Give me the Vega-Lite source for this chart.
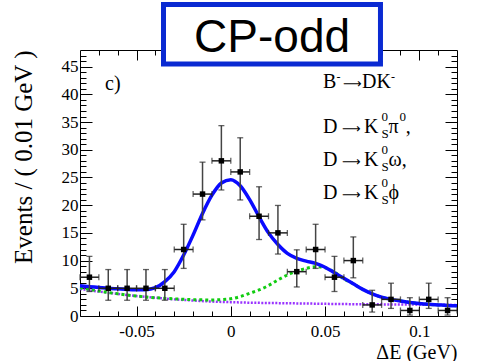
{
  "$schema": "https://vega.github.io/schema/vega-lite/v6.json",
  "width": 377,
  "height": 266,
  "autosize": {"type": "none"},
  "padding": {"left": 80, "top": 50, "right": 23, "bottom": 45},
  "background": "white",
  "config": {
    "font": "Liberation Serif",
    "view": {"stroke": null},
    "axis": {"grid": false, "domainColor": "black", "tickColor": "black", "labelColor": "black", "titleColor": "black", "labelFont": "Liberation Serif", "titleFont": "Liberation Serif", "titleFontWeight": "normal", "domainWidth": 1, "tickWidth": 1}
  },
  "datasets": {
    "one": [{}],
    "pts": [
      {"x": -0.075, "n": 7, "lo": 4.42, "hi": 10.76, "xlo": -0.08, "xhi": -0.07},
      {"x": -0.065, "n": 5, "lo": 2.84, "hi": 8.38, "xlo": -0.07, "xhi": -0.06},
      {"x": -0.055, "n": 5, "lo": 2.84, "hi": 8.38, "xlo": -0.06, "xhi": -0.05},
      {"x": -0.045, "n": 5, "lo": 2.84, "hi": 8.38, "xlo": -0.05, "xhi": -0.04},
      {"x": -0.035, "n": 5, "lo": 2.84, "hi": 8.38, "xlo": -0.04, "xhi": -0.03},
      {"x": -0.025, "n": 12, "lo": 8.59, "hi": 16.55, "xlo": -0.03, "xhi": -0.02},
      {"x": -0.015, "n": 22, "lo": 17.35, "hi": 27.76, "xlo": -0.02, "xhi": -0.01},
      {"x": -0.005, "n": 28, "lo": 22.74, "hi": 34.35, "xlo": -0.01, "xhi": 0.0},
      {"x": 0.005, "n": 26, "lo": 20.94, "hi": 32.16, "xlo": 0.0, "xhi": 0.01},
      {"x": 0.015, "n": 18, "lo": 13.8, "hi": 23.32, "xlo": 0.01, "xhi": 0.02},
      {"x": 0.025, "n": 15, "lo": 11.18, "hi": 19.95, "xlo": 0.02, "xhi": 0.03},
      {"x": 0.035, "n": 8, "lo": 5.24, "hi": 11.94, "xlo": 0.03, "xhi": 0.04},
      {"x": 0.045, "n": 12, "lo": 8.59, "hi": 16.55, "xlo": 0.04, "xhi": 0.05},
      {"x": 0.055, "n": 7, "lo": 4.42, "hi": 10.76, "xlo": 0.05, "xhi": 0.06},
      {"x": 0.065, "n": 10, "lo": 6.89, "hi": 14.27, "xlo": 0.06, "xhi": 0.07},
      {"x": 0.075, "n": 2, "lo": 0.71, "hi": 4.64, "xlo": 0.07, "xhi": 0.08},
      {"x": 0.085, "n": 3, "lo": 1.37, "hi": 5.92, "xlo": 0.08, "xhi": 0.09},
      {"x": 0.095, "n": 1, "lo": 0.17, "hi": 3.3, "xlo": 0.09, "xhi": 0.1},
      {"x": 0.105, "n": 3, "lo": 1.37, "hi": 5.92, "xlo": 0.1, "xhi": 0.11},
      {"x": 0.115, "n": 1, "lo": 0.17, "hi": 3.3, "xlo": 0.11, "xhi": 0.12}
    ],
    "total": [
      {"x": -0.08, "y": 5.45}, {"x": -0.075, "y": 5.3}, {"x": -0.07, "y": 5.15}, {"x": -0.065, "y": 5.0},
      {"x": -0.06, "y": 4.9}, {"x": -0.055, "y": 4.8}, {"x": -0.05, "y": 4.75}, {"x": -0.045, "y": 4.75},
      {"x": -0.04, "y": 5.1}, {"x": -0.035, "y": 6.2}, {"x": -0.03, "y": 8.0}, {"x": -0.025, "y": 11.0},
      {"x": -0.02, "y": 14.6}, {"x": -0.015, "y": 18.5}, {"x": -0.01, "y": 21.8}, {"x": -0.005, "y": 24.0},
      {"x": 0.0, "y": 24.6}, {"x": 0.005, "y": 23.5}, {"x": 0.01, "y": 21.0}, {"x": 0.015, "y": 17.9},
      {"x": 0.02, "y": 15.0}, {"x": 0.025, "y": 12.9}, {"x": 0.03, "y": 11.3}, {"x": 0.035, "y": 10.4},
      {"x": 0.04, "y": 9.9}, {"x": 0.045, "y": 9.5}, {"x": 0.05, "y": 8.8}, {"x": 0.055, "y": 7.8},
      {"x": 0.06, "y": 6.8}, {"x": 0.065, "y": 5.8}, {"x": 0.07, "y": 4.8}, {"x": 0.075, "y": 4.0},
      {"x": 0.08, "y": 3.4}, {"x": 0.085, "y": 3.0}, {"x": 0.09, "y": 2.7}, {"x": 0.095, "y": 2.45},
      {"x": 0.1, "y": 2.25}, {"x": 0.105, "y": 2.1}, {"x": 0.11, "y": 2.0}, {"x": 0.115, "y": 1.9},
      {"x": 0.12, "y": 1.85}
    ],
    "peak": [
      {"x": -0.08, "y": 5.1}, {"x": -0.07, "y": 4.5}, {"x": -0.06, "y": 4.0}, {"x": -0.05, "y": 3.6},
      {"x": -0.04, "y": 3.3}, {"x": -0.03, "y": 3.1}, {"x": -0.02, "y": 2.95}, {"x": -0.01, "y": 2.9},
      {"x": -0.005, "y": 2.95}, {"x": 0.0, "y": 3.1}, {"x": 0.005, "y": 3.5}, {"x": 0.01, "y": 4.1},
      {"x": 0.015, "y": 4.7}, {"x": 0.02, "y": 5.5}, {"x": 0.025, "y": 6.5}, {"x": 0.03, "y": 7.4},
      {"x": 0.035, "y": 8.1}, {"x": 0.04, "y": 8.6}, {"x": 0.045, "y": 8.9}, {"x": 0.05, "y": 8.7},
      {"x": 0.055, "y": 7.9}, {"x": 0.06, "y": 6.7}, {"x": 0.065, "y": 5.8}, {"x": 0.07, "y": 4.8},
      {"x": 0.075, "y": 4.0}, {"x": 0.08, "y": 3.4}, {"x": 0.085, "y": 3.0}, {"x": 0.09, "y": 2.7},
      {"x": 0.095, "y": 2.45}, {"x": 0.1, "y": 2.25}, {"x": 0.105, "y": 2.1}, {"x": 0.11, "y": 2.0},
      {"x": 0.115, "y": 1.9}, {"x": 0.12, "y": 1.85}
    ],
    "comb": [
      {"x": -0.08, "y": 4.9}, {"x": -0.07, "y": 4.4}, {"x": -0.06, "y": 4.0}, {"x": -0.05, "y": 3.6},
      {"x": -0.04, "y": 3.3}, {"x": -0.03, "y": 3.0}, {"x": -0.02, "y": 2.8}, {"x": -0.01, "y": 2.6},
      {"x": 0.0, "y": 2.5}, {"x": 0.01, "y": 2.4}, {"x": 0.02, "y": 2.35}, {"x": 0.04, "y": 2.25},
      {"x": 0.06, "y": 2.15}, {"x": 0.08, "y": 2.1}, {"x": 0.1, "y": 2.05}, {"x": 0.12, "y": 2.0}
    ]
  },
  "resolve": {"axis": {"x": "independent", "y": "independent"}},
  "layer": [
    {
      "data": {"name": "comb"},
      "mark": {"type": "line", "color": "#9933ff", "strokeWidth": 2.5, "strokeDash": [2, 1.5], "interpolate": "monotone"},
      "encoding": {
        "x": {"field": "x", "type": "quantitative", "scale": {"domain": [-0.08, 0.12], "nice": false, "zero": false},
          "axis": {"orient": "bottom", "values": [-0.05, 0, 0.05, 0.1], "tickSize": -10, "labelPadding": 17, "labelFont": "Liberation Serif", "labelFontSize": 17,
            "labelExpr": "datum.value == 0 ? '0' : (datum.value < 0 ? '-' : '') + format(abs(datum.value), '~g')",
            "title": "ΔE (GeV)", "titleFont": "Liberation Serif", "titleFontSize": 20, "titleAnchor": "end", "titlePadding": 3}},
        "y": {"field": "y", "type": "quantitative", "scale": {"domain": [0, 48], "nice": false, "zero": false},
          "axis": {"orient": "left", "values": [0, 5, 10, 15, 20, 25, 30, 35, 40, 45], "tickSize": -12, "labelPadding": 14, "labelFont": "Liberation Serif", "labelFontSize": 17,
            "title": "Events / ( 0.01 GeV )", "titleFont": "Liberation Serif", "titleFontSize": 25, "titleAnchor": "end", "titlePadding": 25}}
      }
    },
    {
      "data": {"name": "peak"},
      "mark": {"type": "line", "color": "#11cc11", "strokeWidth": 3, "strokeDash": [3, 3], "interpolate": "monotone"},
      "encoding": {
        "x": {"field": "x", "type": "quantitative", "scale": {"domain": [-0.08, 0.12], "nice": false, "zero": false},
          "axis": {"orient": "bottom", "values": [-0.07, -0.06, -0.04, -0.03, -0.02, -0.01, 0.01, 0.02, 0.03, 0.04, 0.06, 0.07, 0.08, 0.09, 0.11], "tickSize": -5, "labels": false, "domain": false, "title": null}},
        "y": {"field": "y", "type": "quantitative", "scale": {"domain": [0, 48], "nice": false, "zero": false},
          "axis": {"orient": "left", "values": [1, 2, 3, 4, 6, 7, 8, 9, 11, 12, 13, 14, 16, 17, 18, 19, 21, 22, 23, 24, 26, 27, 28, 29, 31, 32, 33, 34, 36, 37, 38, 39, 41, 42, 43, 44, 46, 47], "tickSize": -6, "labels": false, "domain": false, "title": null}}
      }
    },
    {
      "data": {"name": "total"},
      "mark": {"type": "line", "color": "#0a0aff", "strokeWidth": 3.5, "interpolate": "monotone"},
      "encoding": {
        "x": {"field": "x", "type": "quantitative", "scale": {"domain": [-0.08, 0.12], "nice": false, "zero": false},
          "axis": {"orient": "top", "values": [-0.05, 0, 0.05, 0.1], "tickSize": -10, "labels": false, "title": null}},
        "y": {"field": "y", "type": "quantitative", "scale": {"domain": [0, 48], "nice": false, "zero": false},
          "axis": {"orient": "right", "values": [0, 5, 10, 15, 20, 25, 30, 35, 40, 45], "tickSize": -12, "labels": false, "title": null}}
      }
    },
    {
      "data": {"name": "pts"},
      "mark": {"type": "rule", "color": "#444444", "strokeWidth": 1.5},
      "encoding": {
        "x": {"field": "x", "type": "quantitative", "scale": {"domain": [-0.08, 0.12], "nice": false, "zero": false},
          "axis": {"orient": "top", "values": [-0.07, -0.06, -0.04, -0.03, -0.02, -0.01, 0.01, 0.02, 0.03, 0.04, 0.06, 0.07, 0.08, 0.09, 0.11], "tickSize": -5, "labels": false, "domain": false, "title": null}},
        "y": {"field": "lo", "type": "quantitative", "scale": {"domain": [0, 48], "nice": false, "zero": false},
          "axis": {"orient": "right", "values": [1, 2, 3, 4, 6, 7, 8, 9, 11, 12, 13, 14, 16, 17, 18, 19, 21, 22, 23, 24, 26, 27, 28, 29, 31, 32, 33, 34, 36, 37, 38, 39, 41, 42, 43, 44, 46, 47], "tickSize": -6, "labels": false, "domain": false, "title": null}},
        "y2": {"field": "hi"}
      }
    },
    {
      "data": {"name": "pts"},
      "mark": {"type": "rule", "color": "#222222", "strokeWidth": 1.5},
      "encoding": {
        "x": {"field": "xlo", "type": "quantitative", "scale": {"domain": [-0.08, 0.12], "nice": false, "zero": false}, "axis": null},
        "x2": {"field": "xhi"},
        "y": {"field": "n", "type": "quantitative", "scale": {"domain": [0, 48], "nice": false, "zero": false}, "axis": null}
      }
    },
    {
      "data": {"name": "pts"},
      "transform": [{"fold": ["lo", "hi"], "as": ["k", "v"]}],
      "mark": {"type": "tick", "orient": "horizontal", "color": "#222222", "size": 6, "thickness": 1.3},
      "encoding": {
        "x": {"field": "x", "type": "quantitative", "scale": {"domain": [-0.08, 0.12], "nice": false, "zero": false}, "axis": null},
        "y": {"field": "v", "type": "quantitative", "scale": {"domain": [0, 48], "nice": false, "zero": false}, "axis": null}
      }
    },
    {
      "data": {"name": "pts"},
      "transform": [{"fold": ["xlo", "xhi"], "as": ["k", "v"]}],
      "mark": {"type": "tick", "orient": "vertical", "color": "#222222", "size": 6, "thickness": 1.3},
      "encoding": {
        "x": {"field": "v", "type": "quantitative", "scale": {"domain": [-0.08, 0.12], "nice": false, "zero": false}, "axis": null},
        "y": {"field": "n", "type": "quantitative", "scale": {"domain": [0, 48], "nice": false, "zero": false}, "axis": null}
      }
    },
    {
      "data": {"name": "pts"},
      "mark": {"type": "square", "color": "black", "filled": true, "opacity": 1, "size": 30},
      "encoding": {
        "x": {"field": "x", "type": "quantitative", "scale": {"domain": [-0.08, 0.12], "nice": false, "zero": false}, "axis": null},
        "y": {"field": "n", "type": "quantitative", "scale": {"domain": [0, 48], "nice": false, "zero": false}, "axis": null}
      }
    },
    {
      "data": {"name": "one"},
      "mark": {"type": "text", "text": "c)", "font": "Liberation Serif", "fontSize": 20, "align": "left", "baseline": "alphabetic", "color": "black"},
      "encoding": {
        "x": {"datum": -0.0667, "type": "quantitative", "scale": {"domain": [-0.08, 0.12], "nice": false, "zero": false}, "axis": null},
        "y": {"datum": 40.78, "type": "quantitative", "scale": {"domain": [0, 48], "nice": false, "zero": false}, "axis": null}
      }
    },
    {
      "data": {"name": "one"},
      "mark": {"type": "text", "text": "B", "font": "Liberation Serif", "fontSize": 20, "align": "left", "baseline": "alphabetic", "color": "black"},
      "encoding": {
        "x": {"datum": 0.0489, "type": "quantitative", "scale": {"domain": [-0.08, 0.12], "nice": false, "zero": false}, "axis": null},
        "y": {"datum": 41.14, "type": "quantitative", "scale": {"domain": [0, 48], "nice": false, "zero": false}, "axis": null}
      }
    },
    {
      "data": {"name": "one"},
      "mark": {"type": "text", "text": "-", "font": "Liberation Serif", "fontSize": 12, "align": "left", "baseline": "alphabetic", "color": "black"},
      "encoding": {
        "x": {"datum": 0.0561, "type": "quantitative", "scale": {"domain": [-0.08, 0.12], "nice": false, "zero": false}, "axis": null},
        "y": {"datum": 42.41, "type": "quantitative", "scale": {"domain": [0, 48], "nice": false, "zero": false}, "axis": null}
      }
    },
    {
      "data": {"name": "one"},
      "mark": {"type": "text", "text": "⟶", "font": "DejaVu Sans", "fontSize": 13, "align": "left", "baseline": "alphabetic", "color": "black"},
      "encoding": {
        "x": {"datum": 0.0595, "type": "quantitative", "scale": {"domain": [-0.08, 0.12], "nice": false, "zero": false}, "axis": null},
        "y": {"datum": 41.14, "type": "quantitative", "scale": {"domain": [0, 48], "nice": false, "zero": false}, "axis": null}
      }
    },
    {
      "data": {"name": "one"},
      "mark": {"type": "text", "text": "DK", "font": "Liberation Serif", "fontSize": 20, "align": "left", "baseline": "alphabetic", "color": "black"},
      "encoding": {
        "x": {"datum": 0.0696, "type": "quantitative", "scale": {"domain": [-0.08, 0.12], "nice": false, "zero": false}, "axis": null},
        "y": {"datum": 41.14, "type": "quantitative", "scale": {"domain": [0, 48], "nice": false, "zero": false}, "axis": null}
      }
    },
    {
      "data": {"name": "one"},
      "mark": {"type": "text", "text": "-", "font": "Liberation Serif", "fontSize": 12, "align": "left", "baseline": "alphabetic", "color": "black"},
      "encoding": {
        "x": {"datum": 0.0850, "type": "quantitative", "scale": {"domain": [-0.08, 0.12], "nice": false, "zero": false}, "axis": null},
        "y": {"datum": 42.41, "type": "quantitative", "scale": {"domain": [0, 48], "nice": false, "zero": false}, "axis": null}
      }
    },
    {
      "data": {"name": "one"},
      "mark": {"type": "text", "text": ["D", "D", "D"], "lineHeight": 33, "font": "Liberation Serif", "fontSize": 20, "align": "left", "baseline": "alphabetic", "color": "black"},
      "encoding": {
        "x": {"datum": 0.0489, "type": "quantitative", "scale": {"domain": [-0.08, 0.12], "nice": false, "zero": false}, "axis": null},
        "y": {"datum": 33.02, "type": "quantitative", "scale": {"domain": [0, 48], "nice": false, "zero": false}, "axis": null}
      }
    },
    {
      "data": {"name": "one"},
      "mark": {"type": "text", "text": ["⟶", "⟶", "⟶"], "lineHeight": 33, "font": "DejaVu Sans", "fontSize": 13, "align": "left", "baseline": "alphabetic", "color": "black"},
      "encoding": {
        "x": {"datum": 0.0590, "type": "quantitative", "scale": {"domain": [-0.08, 0.12], "nice": false, "zero": false}, "axis": null},
        "y": {"datum": 33.02, "type": "quantitative", "scale": {"domain": [0, 48], "nice": false, "zero": false}, "axis": null}
      }
    },
    {
      "data": {"name": "one"},
      "mark": {"type": "text", "text": ["K", "K", "K"], "lineHeight": 33, "font": "Liberation Serif", "fontSize": 20, "align": "left", "baseline": "alphabetic", "color": "black"},
      "encoding": {
        "x": {"datum": 0.0706, "type": "quantitative", "scale": {"domain": [-0.08, 0.12], "nice": false, "zero": false}, "axis": null},
        "y": {"datum": 33.02, "type": "quantitative", "scale": {"domain": [0, 48], "nice": false, "zero": false}, "axis": null}
      }
    },
    {
      "data": {"name": "one"},
      "mark": {"type": "text", "text": ["0", "0", "0"], "lineHeight": 33, "font": "Liberation Serif", "fontSize": 13, "align": "left", "baseline": "alphabetic", "color": "black"},
      "encoding": {
        "x": {"datum": 0.0800, "type": "quantitative", "scale": {"domain": [-0.08, 0.12], "nice": false, "zero": false}, "axis": null},
        "y": {"datum": 35.2, "type": "quantitative", "scale": {"domain": [0, 48], "nice": false, "zero": false}, "axis": null}
      }
    },
    {
      "data": {"name": "one"},
      "mark": {"type": "text", "text": ["S", "S", "S"], "lineHeight": 33, "font": "Liberation Serif", "fontSize": 13, "align": "left", "baseline": "alphabetic", "color": "black"},
      "encoding": {
        "x": {"datum": 0.0800, "type": "quantitative", "scale": {"domain": [-0.08, 0.12], "nice": false, "zero": false}, "axis": null},
        "y": {"datum": 32.12, "type": "quantitative", "scale": {"domain": [0, 48], "nice": false, "zero": false}, "axis": null}
      }
    },
    {
      "data": {"name": "one"},
      "mark": {"type": "text", "text": ["π", "ω,", "ϕ"], "lineHeight": 33, "font": "Liberation Serif", "fontSize": 20, "align": "left", "baseline": "alphabetic", "color": "black"},
      "encoding": {
        "x": {"datum": 0.0837, "type": "quantitative", "scale": {"domain": [-0.08, 0.12], "nice": false, "zero": false}, "axis": null},
        "y": {"datum": 33.02, "type": "quantitative", "scale": {"domain": [0, 48], "nice": false, "zero": false}, "axis": null}
      }
    },
    {
      "data": {"name": "one"},
      "mark": {"type": "text", "text": "0", "font": "Liberation Serif", "fontSize": 13, "align": "left", "baseline": "alphabetic", "color": "black"},
      "encoding": {
        "x": {"datum": 0.0895, "type": "quantitative", "scale": {"domain": [-0.08, 0.12], "nice": false, "zero": false}, "axis": null},
        "y": {"datum": 35.2, "type": "quantitative", "scale": {"domain": [0, 48], "nice": false, "zero": false}, "axis": null}
      }
    },
    {
      "data": {"name": "one"},
      "mark": {"type": "text", "text": ",", "font": "Liberation Serif", "fontSize": 20, "align": "left", "baseline": "alphabetic", "color": "black"},
      "encoding": {
        "x": {"datum": 0.0928, "type": "quantitative", "scale": {"domain": [-0.08, 0.12], "nice": false, "zero": false}, "axis": null},
        "y": {"datum": 33.02, "type": "quantitative", "scale": {"domain": [0, 48], "nice": false, "zero": false}, "axis": null}
      }
    },
    {
      "data": {"name": "one"},
      "mark": {"type": "rect", "fill": "white", "stroke": "#0a2ad2", "strokeWidth": 5, "clip": false},
      "encoding": {
        "x": {"datum": -0.0357, "type": "quantitative", "scale": {"domain": [-0.08, 0.12], "nice": false, "zero": false}, "axis": null},
        "x2": {"datum": 0.0794},
        "y": {"datum": 45.47, "type": "quantitative", "scale": {"domain": [0, 48], "nice": false, "zero": false}, "axis": null},
        "y2": {"datum": 56.21}
      }
    },
    {
      "data": {"name": "one"},
      "mark": {"type": "text", "text": "CP-odd", "font": "Liberation Sans", "fontSize": 46, "align": "center", "baseline": "alphabetic", "color": "black"},
      "encoding": {
        "x": {"datum": 0.0219, "type": "quantitative", "scale": {"domain": [-0.08, 0.12], "nice": false, "zero": false}, "axis": null},
        "y": {"datum": 47.64, "type": "quantitative", "scale": {"domain": [0, 48], "nice": false, "zero": false}, "axis": null}
      }
    }
  ]
}
